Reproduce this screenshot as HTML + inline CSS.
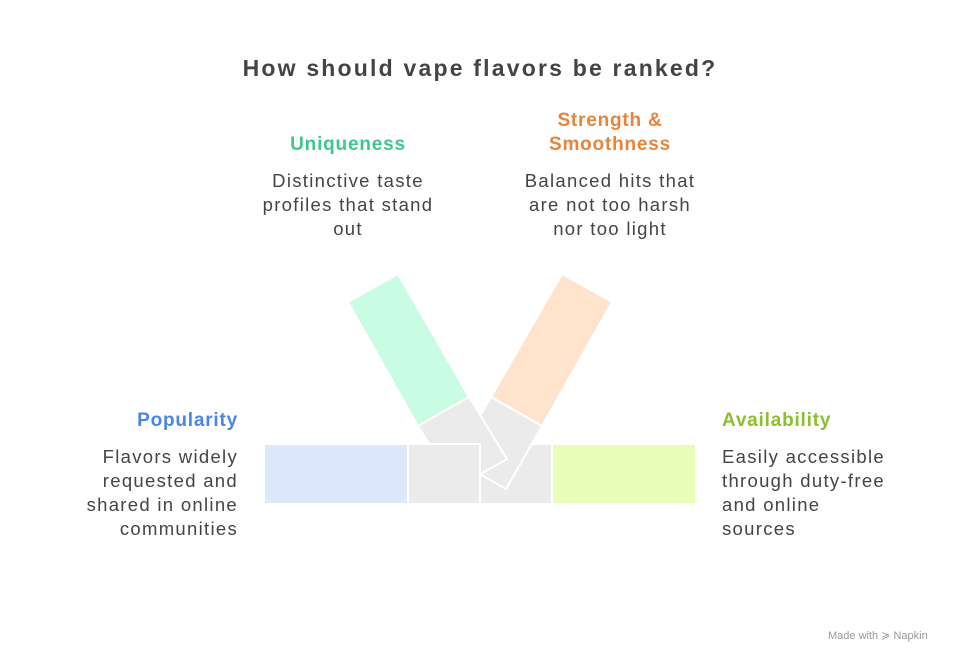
<!DOCTYPE html>
<html><head><style>
body{margin:0;width:960px;height:660px;background:#fff;font-family:"Liberation Sans",sans-serif;position:relative;overflow:hidden}
.t{position:absolute;font-size:18.5px;line-height:24px;color:#444;letter-spacing:1.3px;white-space:nowrap}
.h{font-weight:bold;font-size:19px;letter-spacing:0.8px}
</style></head><body>
<div class="t" style="left:0;width:960px;top:56px;text-align:center;font-size:23px;font-weight:bold;color:#444;letter-spacing:2.2px">How should vape flavors be ranked?</div>
<div class="t h" style="left:248px;width:200px;top:133px;text-align:center;color:#3cc88c">Uniqueness</div>
<div class="t" style="left:238px;width:220px;top:169px;text-align:center">Distinctive taste<br>profiles that stand<br>out</div>
<div class="t h" style="left:510px;width:200px;top:109px;text-align:center;color:#e8843a">Strength &amp;<br>Smoothness</div>
<div class="t" style="left:500px;width:220px;top:169px;text-align:center">Balanced hits that<br>are not too harsh<br>nor too light</div>
<div class="t h" style="left:40px;width:198px;top:409px;text-align:right;color:#4a84e6">Popularity</div>
<div class="t" style="left:30px;width:208px;top:445px;text-align:right">Flavors widely<br>requested and<br>shared in online<br>communities</div>
<div class="t h" style="left:722px;width:200px;top:409px;color:#8cbf2e">Availability</div>
<div class="t" style="left:722px;width:220px;top:445px">Easily accessible<br>through duty-free<br>and online<br>sources</div>
<div class="t" style="left:828px;top:624px;font-size:11px;color:#999;letter-spacing:0">Made with ≽ Napkin</div>
<svg width="960" height="660" style="position:absolute;left:0;top:0">
<g stroke="#fff" stroke-width="2">
<rect x="264" y="444" width="144" height="60" fill="#dde8fd"/>
<rect x="552" y="444" width="144" height="60" fill="#e8fdb5"/>
<rect x="480" y="444" width="72" height="60" fill="#ebebeb"/>
<polygon points="562,274 612,302 542,426 491,397" fill="#ffe3cc"/>
<polygon points="491,397 542,426 506,489 455,460" fill="#ebebeb"/>
<polygon points="348,302 398,274 469,397 418,426" fill="#c8fde3"/>
<polygon points="418,426 469,397 507,459 456,488" fill="#ebebeb"/>
<rect x="408" y="444" width="72" height="60" fill="#ebebeb"/>
</g>
</svg>
</body></html>
